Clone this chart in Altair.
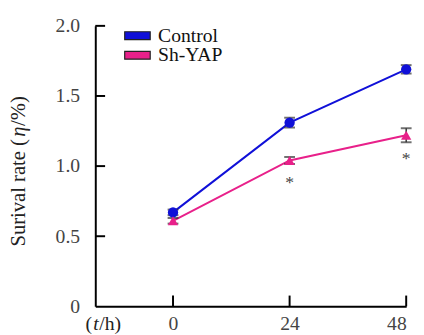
import altair as alt
import pandas as pd

hours = [0, 24, 48]
control = [0.67, 1.31, 1.69]
control_err = [0.02, 0.035, 0.03]
shyap = [0.61, 1.04, 1.22]
shyap_err = [0.02, 0.025, 0.05]
star_hours = [24, 48]
star_values = [0.88, 1.05]
series_names = ["Control", "Sh-YAP"]
series_colors = ["#1010d8", "#e8208a"]
y_ticks = [0, 0.5, 1.0, 1.5, 2.0]
x_ticks = [0, 24, 48]
y_title_parts = ["Surival rate (", "η", "/%)"]
x_title_parts = ["(", "t", "/h)"]

FONT = "Liberation Serif"

rows = []
for h, v, e in zip(hours, control, control_err):
    rows.append({"t": h, "v": v, "lo": v - e, "hi": v + e, "s": "Control"})
for h, v, e in zip(hours, shyap, shyap_err):
    rows.append({"t": h, "v": v, "lo": v - e, "hi": v + e, "s": "Sh-YAP"})
df = pd.DataFrame(rows)

xs = alt.Scale(domain=[-16, 48], nice=False)
ys = alt.Scale(domain=[0, 2], nice=False)
cs = alt.Scale(domain=series_names, range=series_colors)

xaxis = alt.Axis(values=x_ticks, title=None, ticks=False, grid=False,
                 domainColor="black", domainWidth=2,
                 labelFont=FONT, labelFontSize=20, labelColor="#444", labelPadding=8)
yaxis = alt.Axis(values=y_ticks, title=None, ticks=False,
                 grid=False, domainColor="black", domainWidth=2,
                 labelFont=FONT, labelFontSize=20, labelColor="#444",
                 labelPadding=16,
                 labelExpr="datum.value == 0 ? '0' : format(datum.value, '.1f')")


def X(f):
    return alt.X(f, type="quantitative", scale=xs, axis=xaxis)


def Y(f):
    return alt.Y(f, type="quantitative", scale=ys, axis=yaxis)


ytk = alt.Chart(pd.DataFrame({"v": y_ticks[1:]})).mark_rule(color="black", strokeWidth=2).encode(
    y=Y("v"), x=alt.value(0), x2=alt.value(10))
xtk = alt.Chart(pd.DataFrame({"t": x_ticks})).mark_rule(color="black", strokeWidth=2).encode(
    x=X("t"), y=alt.value(286), y2=alt.value(275))

base = alt.Chart(df)
lines = base.mark_line(strokeWidth=2).encode(
    x=X("t"), y=Y("v"), color=alt.Color("s:N", scale=cs, legend=None))
err = base.mark_rule(color="#333", strokeWidth=1.5).encode(x=X("t"), y=Y("lo"), y2="hi:Q")
caps_lo = base.mark_tick(color="#333", thickness=2, size=11, orient="horizontal").encode(x=X("t"), y=Y("lo"))
caps_hi = base.mark_tick(color="#333", thickness=2, size=11, orient="horizontal").encode(x=X("t"), y=Y("hi"))
pts = base.mark_point(filled=True, size=110, opacity=1).encode(
    x=X("t"), y=Y("v"),
    color=alt.Color("s:N", scale=cs, legend=None),
    shape=alt.Shape("s:N", scale=alt.Scale(domain=series_names, range=["circle", "triangle-up"]), legend=None))

stars = alt.Chart(pd.DataFrame({"t": star_hours, "v": star_values})).mark_text(
    text="*", font=FONT, fontSize=18, color="#444").encode(x=X("t"), y=Y("v"))

legend_layers = []
for i, (name, col) in enumerate(zip(series_names, series_colors)):
    ldf = pd.DataFrame({"s": [name]})
    legend_layers.append(alt.Chart(ldf).mark_rect(stroke="#222", strokeWidth=1.2, color=col).encode(
        x=alt.value(30), x2=alt.value(56), y=alt.value(6 + 20 * i), y2=alt.value(14 + 20 * i)))
    legend_layers.append(alt.Chart(ldf).mark_text(
        align="left", baseline="middle", font=FONT, fontSize=20, color="#111").encode(
        x=alt.value(64), y=alt.value(10 + 20 * i), text="s:N"))

# y title pieces (rotated), η italic
yt_offsets = [0, 112, 123]
yt_styles = ["normal", "italic", "normal"]
title_layers = []
for part, off, st in zip(y_title_parts, yt_offsets, yt_styles):
    title_layers.append(alt.Chart(pd.DataFrame({"p": [part]})).mark_text(
        font=FONT, fontSize=21, color="#222", angle=270, align="left", baseline="middle",
        fontStyle=st).encode(x=alt.value(-78), y=alt.value(225 - off), text="p:N"))

xt_x = [-10, -2, 4]
xt_styles = ["normal", "italic", "normal"]
for part, xx, st in zip(x_title_parts, xt_x, xt_styles):
    title_layers.append(alt.Chart(pd.DataFrame({"p": [part]})).mark_text(
        font=FONT, fontSize=20, color="#222", align="left", baseline="middle",
        fontStyle=st).encode(x=alt.value(xx), y=alt.value(304), text="p:N"))

chart = alt.layer(ytk, xtk, lines, err, caps_lo, caps_hi, pts, stars, *legend_layers, *title_layers).properties(
    width=317, height=286, autosize="none",
    padding={"left": 89, "top": 15, "right": 10, "bottom": 26}
).configure_view(stroke=None)

chart.save("out.html", embed_options={"renderer": "svg", "actions": False})
